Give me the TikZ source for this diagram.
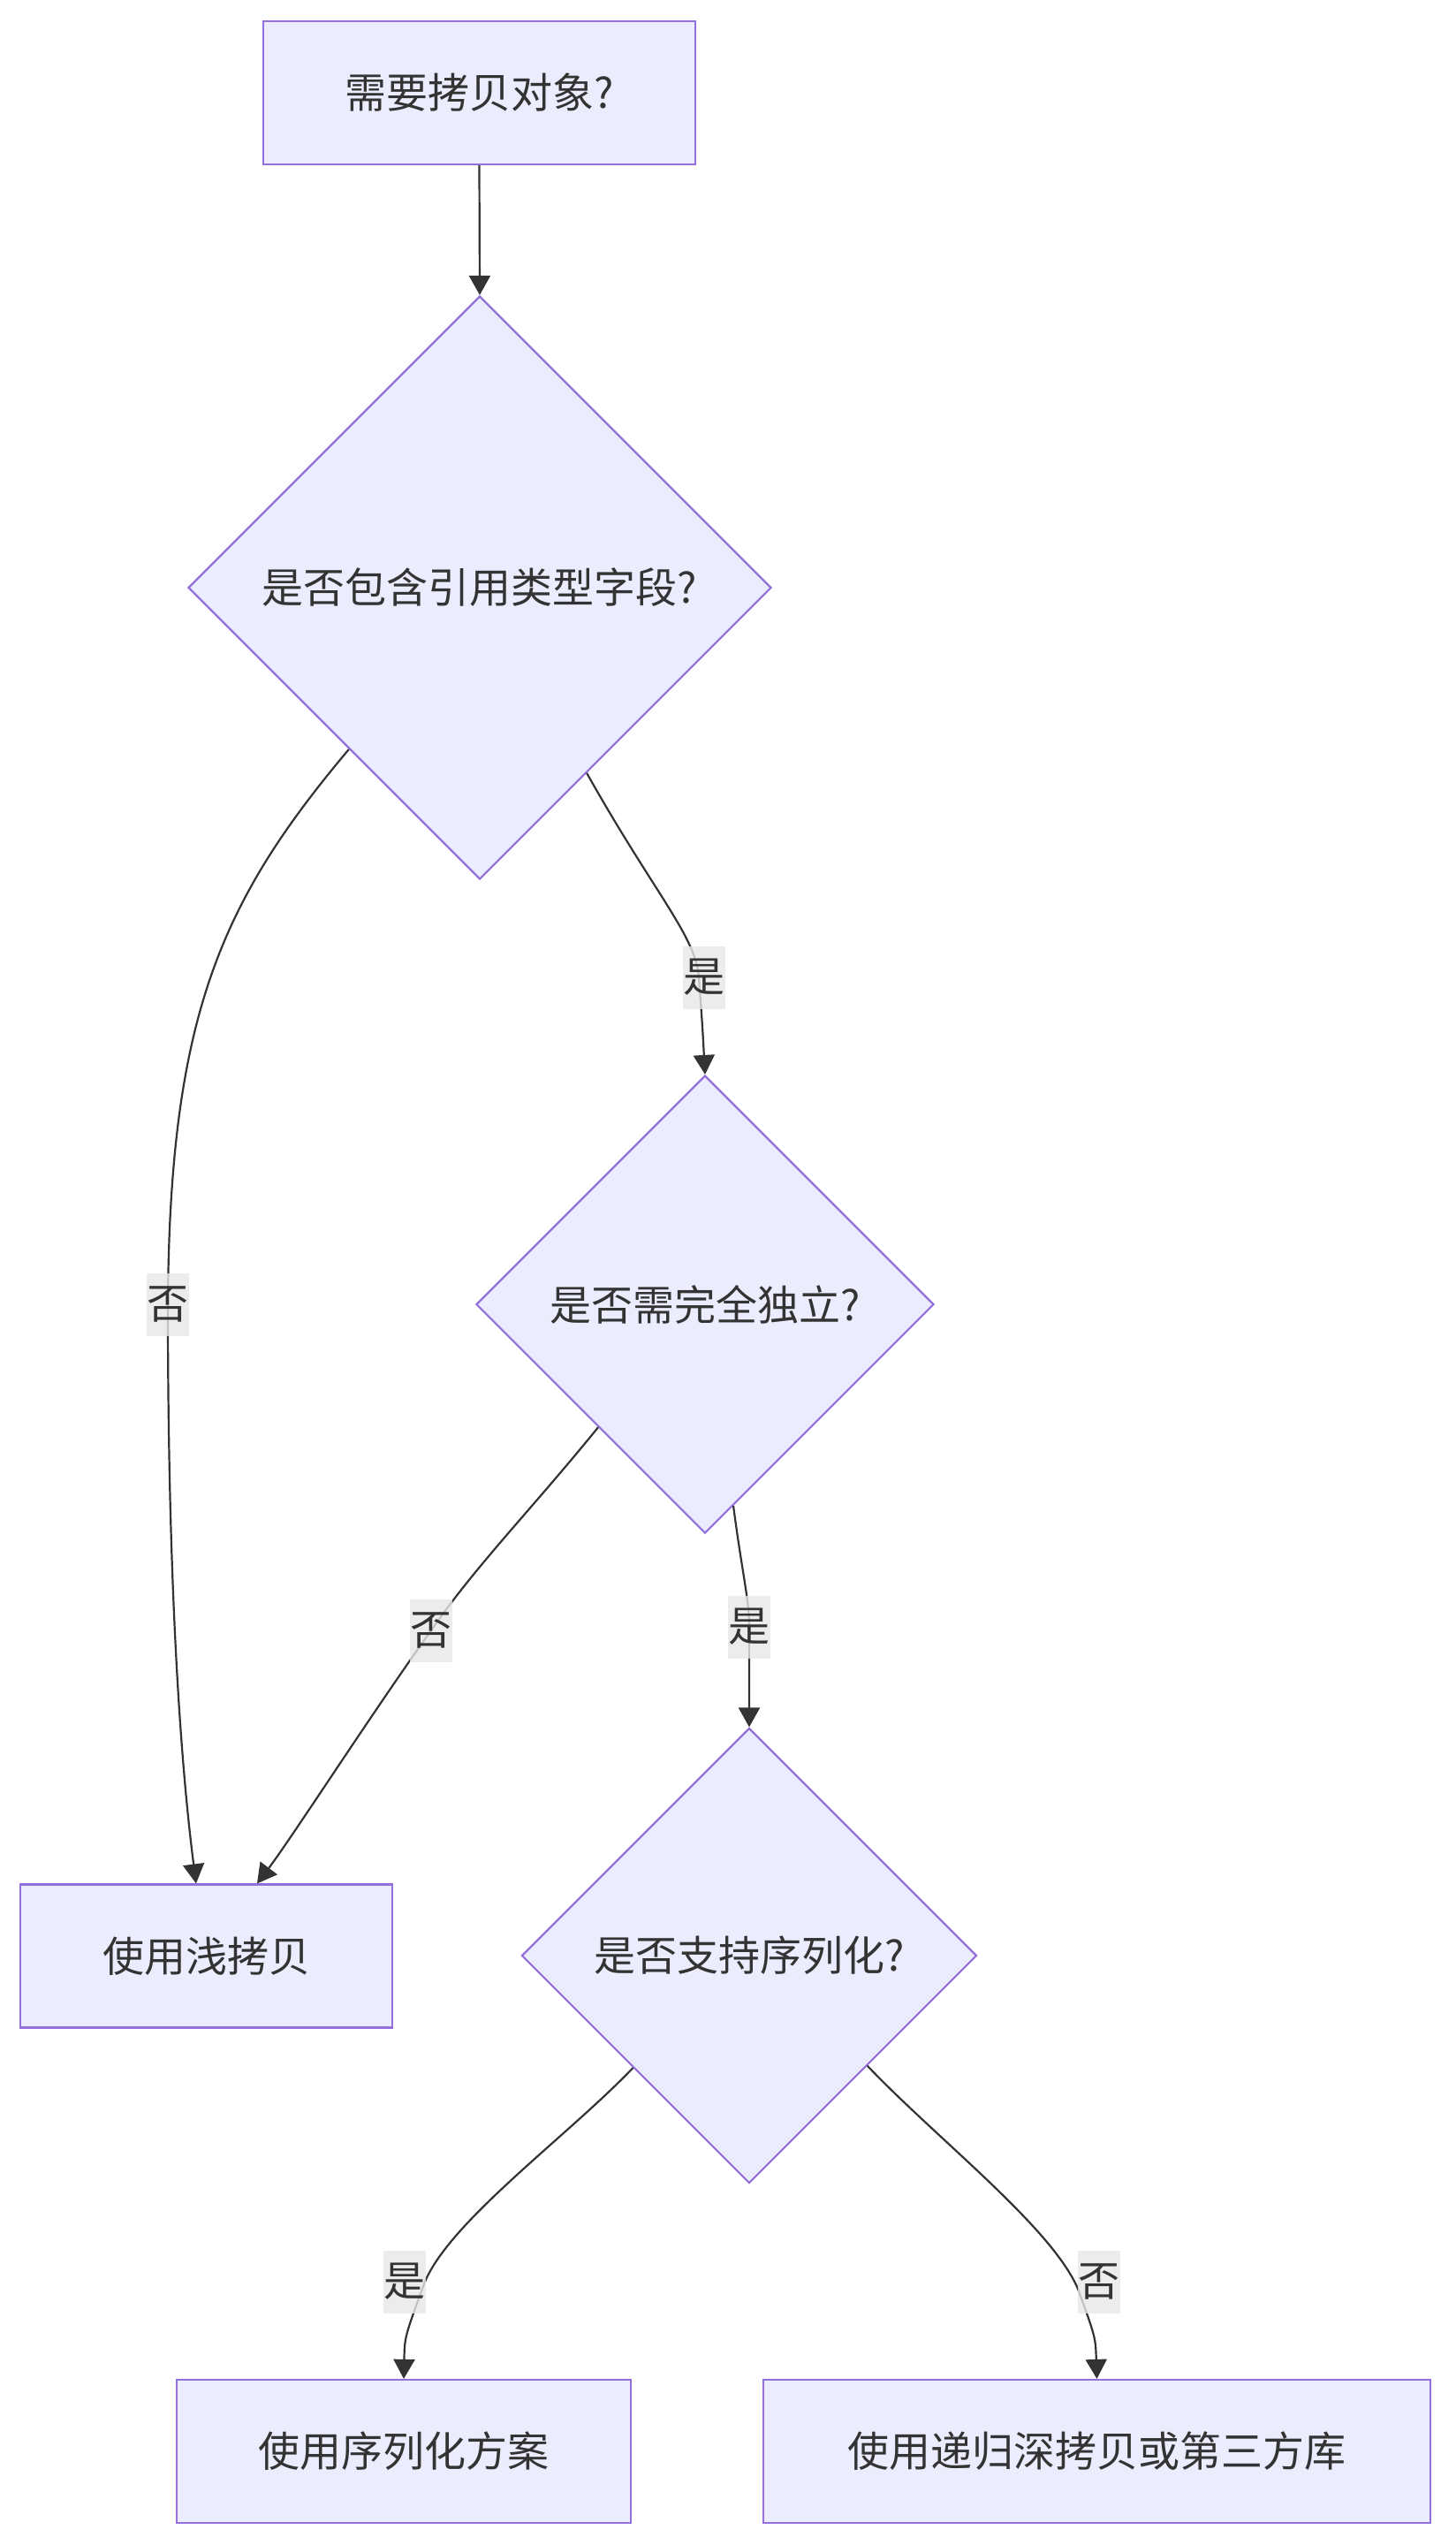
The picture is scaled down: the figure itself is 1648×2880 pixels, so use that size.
\documentclass[tikz,border=0pt]{standalone}
\usepackage{fontspec}
\newfontfamily\cjk{Noto Sans CJK SC}
\usetikzlibrary{shapes.geometric,arrows.meta}
\definecolor{boxfill}{HTML}{ECECFF}
\definecolor{boxline}{HTML}{9370DB}
\definecolor{ink}{HTML}{333333}
\definecolor{lblfill}{HTML}{E8E8E8}

\begin{document}
\begin{tikzpicture}[x=0.5pt,y=-0.5pt,
  every node/.style={font=\cjk\fontsize{23.5}{28}\selectfont,text=ink},
  proc/.style={rectangle,draw=boxline,fill=boxfill,line width=1.1pt,inner sep=0pt,minimum height=81pt},
  decide/.style={diamond,aspect=1,draw=boxline,fill=boxfill,line width=1.1pt,inner sep=0pt},
  link/.style={draw=ink,line width=1.1pt,-{Triangle[length=11pt,width=12pt]}},
  lbl/.style={fill=lblfill,fill opacity=0.8,text opacity=1,inner sep=0pt,minimum width=24pt,minimum height=35.5pt}]

  \path[use as bounding box,fill=white] (0,0) rectangle (1648,2880);

  % nodes
  \node [proc,minimum width=244.5pt] (copy) at (542.5,105) {需要拷贝对象?};
  \node [decide,minimum width=330pt,minimum height=330pt] (hasref) at (543,665) {是否包含引用类型字段?};
  \node [decide,minimum width=259pt,minimum height=259pt] (indep) at (798,1476) {是否需完全独立?};
  \node [decide,minimum width=257.5pt,minimum height=257.5pt] (canser) at (848,2213) {是否支持序列化?};
  \node [proc,minimum width=210.5pt] (shallow) at (233.5,2213.5) {使用浅拷贝};
  \node [proc,minimum width=257pt] (serial) at (457,2774) {使用序列化方案};
  \node [proc,minimum width=377.5pt] (deep) at (1241.5,2774) {使用递归深拷贝或第三方库};

  \coordinate (pyes1) at (791,1106);
  \coordinate (pno1) at (190,1476);
  \coordinate (pno2) at (488,1845);
  \coordinate (pyes2) at (848,1841);

  % connectors
  \draw [link] (copy.south) -- (hasref.north);
  \draw [link] (hasref.300) .. controls (740,1010) and (788,1060) .. (pyes1) .. controls (795,1160) .. (indep.north);
  \draw [link] (hasref.231) .. controls (250,1020) and (192,1150) .. (pno1) .. controls (190,1800) and (205,2000) .. (shallow.98);
  \draw [link] (indep.229) .. controls (600,1710) and (540,1770) .. (pno2) .. controls (420,1940) and (330,2080) .. (shallow.55);
  \draw [link] (indep.278) .. controls (840,1780) and (848,1810) .. (pyes2) .. controls (848,1890) .. (canser.north);
  \draw [link] (canser.224) .. controls (640,2420) and (500,2520) .. (478,2590) .. controls (458,2645) .. (serial.north);
  \draw [link] (canser.317) .. controls (1060,2420) and (1190,2520) .. (1220,2590) .. controls (1240,2645) .. (deep.north);

  % labels
  \node [lbl] (yes1) at (797,1106) {是};
  \node [lbl] (no1) at (pno1) {否};
  \node [lbl] (no2) at (pno2) {否};
  \node [lbl] (yes2) at (pyes2) {是};
  \node [lbl] (yes3) at (458,2582) {是};
  \node [lbl] (no3) at (1244,2582) {否};
\end{tikzpicture}
\end{document}
